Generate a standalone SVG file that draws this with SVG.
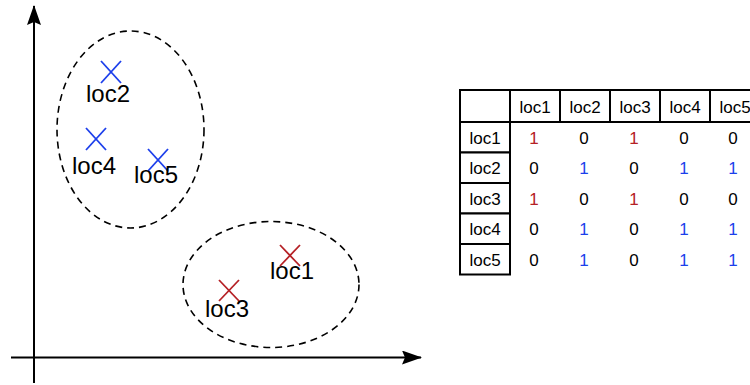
<svg xmlns="http://www.w3.org/2000/svg" width="750" height="385" viewBox="0 0 750 385">
<style>
.axis{stroke:#000;stroke-width:2;fill:none}
.cluster{stroke:#000;stroke-width:1.6;fill:none;stroke-dasharray:7 5}
.xr{stroke:#B52025;stroke-width:1.8}
.xb{stroke:#1C3FEB;stroke-width:1.8}
.lbl{font-family:"Liberation Sans",Arial,sans-serif;font-size:24px;fill:#000;text-anchor:middle}
.cell{fill:#fff;stroke:#000;stroke-width:2}
.t{font-family:"Liberation Sans",Arial,sans-serif;font-size:17px;fill:#000;text-anchor:middle}
.r{fill:#B52025}
.b{fill:#1C3FEB}
</style>
<defs>
<marker id="ah" viewBox="0 0 20 14" refX="19" refY="7" markerWidth="20" markerHeight="14" markerUnits="userSpaceOnUse" orient="auto">
<path d="M0,0 L20,7 L0,14 L3,7 Z" fill="#000"/>
</marker>
</defs>
<g id="connectors">
<line class="axis" x1="34" y1="383" x2="34" y2="6" marker-end="url(#ah)"/>
<line class="axis" x1="11" y1="357.5" x2="421" y2="357.5" marker-end="url(#ah)"/>
</g>
<g id="cluster-blue"><ellipse class="cluster" cx="130.5" cy="129.5" rx="73.5" ry="98.5"/></g>
<g id="cluster-red"><ellipse class="cluster" cx="271" cy="284.5" rx="88" ry="63"/></g>
<g id="loc2">
<line class="xb" x1="101" y1="61" x2="121" y2="83"/><line class="xb" x1="121" y1="61" x2="101" y2="83"/>
<text class="lbl" x="108" y="101.5">loc2</text>
</g>
<g id="loc4">
<line class="xb" x1="86" y1="128" x2="106" y2="150"/><line class="xb" x1="106" y1="128" x2="86" y2="150"/>
<text class="lbl" x="94" y="174">loc4</text>
</g>
<g id="loc5">
<line class="xb" x1="148" y1="149" x2="168" y2="171"/><line class="xb" x1="168" y1="149" x2="148" y2="171"/>
<text class="lbl" x="156" y="183">loc5</text>
</g>
<g id="loc1">
<line class="xr" x1="280" y1="245" x2="300" y2="266"/><line class="xr" x1="300" y1="245" x2="280" y2="266"/>
<text class="lbl" x="292" y="279">loc1</text>
</g>
<g id="loc3">
<line class="xr" x1="219" y1="280" x2="239" y2="301"/><line class="xr" x1="239" y1="280" x2="219" y2="301"/>
<text class="lbl" x="227" y="316.5">loc3</text>
</g>
<g id="matrix">
<rect class="cell" x="460" y="90" width="50" height="32"/>
<rect class="cell" x="510" y="90" width="50" height="32"/>
<rect class="cell" x="560" y="90" width="50" height="32"/>
<rect class="cell" x="610" y="90" width="50" height="32"/>
<rect class="cell" x="660" y="90" width="50" height="32"/>
<rect class="cell" x="710" y="90" width="50" height="32"/>
<text class="t" x="535" y="113">loc1</text>
<text class="t" x="585" y="113">loc2</text>
<text class="t" x="635" y="113">loc3</text>
<text class="t" x="685" y="113">loc4</text>
<text class="t" x="735" y="113">loc5</text>
<rect class="cell" x="460" y="122" width="50" height="30.5"/>
<rect class="cell" x="460" y="152.5" width="50" height="30.5"/>
<rect class="cell" x="460" y="183" width="50" height="30.5"/>
<rect class="cell" x="460" y="213.5" width="50" height="30.5"/>
<rect class="cell" x="460" y="244" width="50" height="30.5"/>
<text class="t" x="485" y="143.5">loc1</text>
<text class="t" x="485" y="174">loc2</text>
<text class="t" x="485" y="204.5">loc3</text>
<text class="t" x="485" y="235">loc4</text>
<text class="t" x="485" y="265.5">loc5</text>
<text class="t r" x="534" y="143.5">1</text><text class="t" x="584" y="143.5">0</text><text class="t r" x="634" y="143.5">1</text><text class="t" x="684" y="143.5">0</text><text class="t" x="733" y="143.5">0</text>
<text class="t" x="534" y="174">0</text><text class="t b" x="584" y="174">1</text><text class="t" x="634" y="174">0</text><text class="t b" x="684" y="174">1</text><text class="t b" x="733" y="174">1</text>
<text class="t r" x="534" y="204.5">1</text><text class="t" x="584" y="204.5">0</text><text class="t r" x="634" y="204.5">1</text><text class="t" x="684" y="204.5">0</text><text class="t" x="733" y="204.5">0</text>
<text class="t" x="534" y="235">0</text><text class="t b" x="584" y="235">1</text><text class="t" x="634" y="235">0</text><text class="t b" x="684" y="235">1</text><text class="t b" x="733" y="235">1</text>
<text class="t" x="534" y="265.5">0</text><text class="t b" x="584" y="265.5">1</text><text class="t" x="634" y="265.5">0</text><text class="t b" x="684" y="265.5">1</text><text class="t b" x="733" y="265.5">1</text>
</g>
</svg>
